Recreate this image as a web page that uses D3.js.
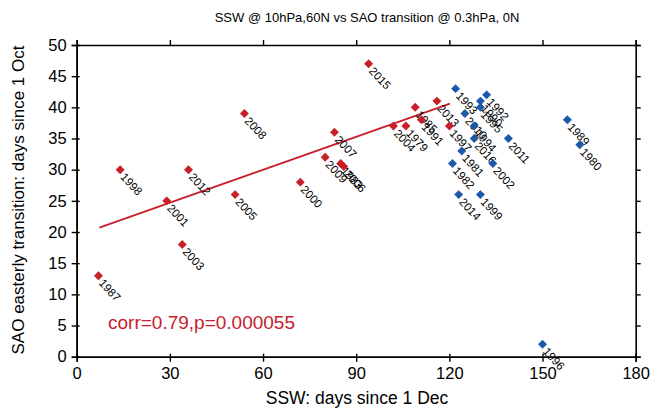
<html>
<script src="https://d3js.org/d3.v7.min.js"></script>
<style>
    body { margin: 0; background: #fff; }
    text { font-family: "Liberation Sans", Arial, sans-serif; }
</style>
<body>
<svg id="chart" width=664 height=411></svg>
<script>
// SSW years (red, fitted) and the rest (blue)
var redYears = ["1987","1998","2001","2012","2003","2005","2008","2000","2009","1983","2006","2007","2015","2004","1979","1985","1991","2013","1997"];
var redX     = [7, 14, 29, 36, 34, 51, 54, 72, 80, 85, 86, 83, 94, 102, 106, 109, 111, 116, 120];
var redY     = [13, 30, 25, 30, 18, 26, 39, 28, 32, 31, 30.5, 36, 47, 37, 37, 40, 38, 41, 37];

var blueYears = ["1993","1992","1990","1995","2010","1994","2016","2011","1981","1982","2002","2014","1999","1989","1980","1996"];
var blueX     = [122, 132, 130, 130, 125, 128, 128, 139, 124, 121, 134, 123, 130, 158, 162, 150];
var blueY     = [43, 42, 41, 40, 39, 37, 35, 35, 33, 31, 31, 26, 26, 38, 34, 2];

// regression line end points
var fitX = [7.3, 120.2];
var fitY = [20.7, 40.6];

var xTicks = [0, 30, 60, 90, 120, 150, 180];
var yTicks = [0, 5, 10, 15, 20, 25, 30, 35, 40, 45, 50];

var red = "#c8202b", blue = "#1d58ab";
var margin = {left: 76.7, right: 635.7, top: 45, bottom: 356.7};

var svg = d3.select("#chart");
var x = d3.scaleLinear().domain([0, 180]).range([margin.left, margin.right]);
var y = d3.scaleLinear().domain([0, 50]).range([margin.bottom, margin.top]);

// axes: outer ticks with labels, plus short inner ticks
svg.append("g").attr("transform", "translate(0," + margin.bottom + ")")
    .call(d3.axisBottom(x).tickValues(xTicks).tickSize(5).tickPadding(6));
svg.append("g").attr("transform", "translate(0," + margin.bottom + ")")
    .call(d3.axisTop(x).tickValues(xTicks).tickSize(3).tickFormat(""));
svg.append("g").attr("transform", "translate(" + margin.left + ",0)")
    .call(d3.axisLeft(y).tickValues(yTicks).tickSize(5).tickPadding(5));
svg.append("g").attr("transform", "translate(" + margin.left + ",0)")
    .call(d3.axisRight(y).tickValues(yTicks).tickSize(3).tickFormat(""));
svg.append("g").attr("transform", "translate(0," + margin.top + ")")
    .call(d3.axisTop(x).tickValues(xTicks).tickSize(5).tickFormat(""));
svg.append("g").attr("transform", "translate(" + margin.right + ",0)")
    .call(d3.axisRight(y).tickValues(yTicks).tickSize(5).tickFormat(""));

svg.selectAll(".domain").attr("stroke", "#000").attr("stroke-width", 1.6);
svg.selectAll(".tick line").attr("stroke", "#000").attr("stroke-width", 1.4);
svg.selectAll(".tick text").attr("fill", "#000").style("font-size", "16.5px")
    .style("font-family", "'Liberation Sans', Arial, sans-serif");

// titles
svg.append("text").attr("x", 367).attr("y", 22).attr("text-anchor", "middle")
    .style("font-size", "13px").text("SSW @ 10hPa,60N vs SAO transition @ 0.3hPa, 0N");
svg.append("text").attr("x", 357).attr("y", 404).attr("text-anchor", "middle")
    .style("font-size", "17.5px").text("SSW: days since 1 Dec");
svg.append("text").attr("transform", "translate(24,200) rotate(-90)").attr("text-anchor", "middle")
    .style("font-size", "17px").text("SAO easterly transition: days since 1 Oct");

// regression line
svg.append("line")
    .attr("x1", x(fitX[0])).attr("y1", y(fitY[0]))
    .attr("x2", x(fitX[1])).attr("y2", y(fitY[1]))
    .attr("stroke", red).attr("stroke-width", 1.8);

function drawSet(years, xs, ys, color) {
    var diamond = d3.symbol().type(d3.symbolSquare).size(40);
    var g = svg.append("g").selectAll("g").data(years).enter().append("g")
        .attr("transform", function(d, i) { return "translate(" + x(xs[i]) + "," + y(ys[i]) + ")"; });
    g.append("path").attr("d", diamond).attr("transform", "rotate(45)").attr("fill", color);
    g.append("text")
        .attr("transform", "translate(6,2) rotate(47)")
        .attr("dy", "0.75em")
        .style("font-size", "11.5px")
        .text(function(d) { return d; });
}
drawSet(redYears, redX, redY, red);
drawSet(blueYears, blueX, blueY, blue);

svg.append("text").attr("x", 108).attr("y", 329).attr("fill", red)
    .style("font-size", "19px").text("corr=0.79,p=0.000055");
</script>
</body>
</html>
